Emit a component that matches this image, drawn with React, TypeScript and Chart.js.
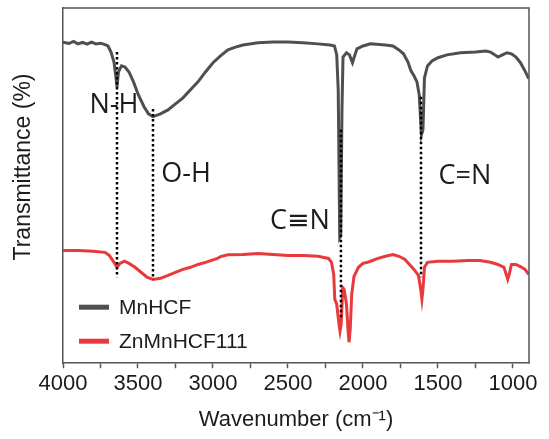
import { useEffect, useRef } from "react";
import { Chart, registerables } from "chart.js";

Chart.register(...registerables);

// ---- Data ----
const seriesNames = ["MnHCF", "ZnMnHCF111"];
const seriesColors = ["#4f4f4f", "#e8393d"];

const mnhcfWavenumber = [
  4000, 3960, 3930, 3900, 3870, 3840, 3810, 3780, 3750, 3720, 3700, 3680, 3660, 3645, 3640, 3630, 3610,
  3587, 3560, 3530, 3500, 3460, 3430, 3400, 3350, 3300, 3250, 3200, 3150, 3100, 3050, 3000, 2950,
  2900, 2850, 2800, 2700, 2600, 2500, 2400, 2300, 2220, 2190, 2175, 2165, 2155, 2148, 2140, 2133,
  2110, 2090, 2070, 2060, 2040, 2000, 1950, 1850, 1800, 1760, 1730, 1700, 1680, 1660, 1640, 1625,
  1610, 1600, 1590, 1570, 1540, 1500, 1440, 1350, 1250, 1180, 1150, 1120, 1100, 1070, 1040, 1010,
  980, 950, 920, 895,
];
const mnhcfT = [
  90.4, 90.0, 90.6, 89.9, 90.3, 89.8, 90.4, 89.9, 90.1, 89.7, 89.3, 87.6, 84.8, 79.8, 77.8, 82.0, 83.7,
  83.4, 82.0, 79.2, 75.8, 72.2, 70.2, 69.4, 70.2, 71.3, 73.0, 74.7, 77.0, 79.2, 82.0, 84.6, 86.5,
  88.2, 89.0, 89.6, 90.2, 90.4, 90.4, 90.2, 89.9, 89.6, 89.3, 86.8, 77.0, 35.4, 36.0, 71.3, 86.2,
  87.4, 86.8, 84.6, 86.0, 88.5, 89.3, 89.9, 89.6, 89.3, 88.2, 87.1, 84.8, 82.3, 80.9, 79.2, 75.6,
  64.3, 65.7, 80.3, 83.7, 85.1, 86.0, 86.8, 87.4, 87.6, 87.9, 87.6, 86.8, 86.2, 86.8, 87.4, 87.1,
  86.2, 84.6, 82.3, 80.1,
];

const znWavenumber = [
  4000, 3900, 3800, 3720, 3690, 3660, 3640, 3620, 3590, 3560, 3520, 3480, 3440, 3400, 3350, 3300,
  3250, 3200, 3150, 3100, 3050, 3000, 2970, 2950, 2900, 2800, 2700, 2600, 2500, 2400, 2300, 2230,
  2210, 2195, 2188, 2175, 2160, 2153, 2145, 2135, 2125, 2110, 2100, 2093, 2085, 2075, 2060, 2030,
  2000, 1970, 1950, 1900, 1850, 1800, 1760, 1720, 1690, 1660, 1630, 1615, 1607, 1600, 1590, 1570,
  1500, 1400, 1300, 1220, 1150, 1100, 1060, 1045, 1035, 1025, 1010, 980, 950, 920, 895,
];
const znT = [
  31.7, 31.7, 31.5, 31.2, 30.3, 28.4, 27.0, 28.1, 28.7, 28.1, 27.0, 25.6, 24.2, 23.6, 23.9, 24.7,
  25.6, 26.4, 27.0, 27.8, 28.4, 29.1, 29.5, 30.0, 30.5, 30.6, 30.9, 30.6, 30.3, 30.3, 30.1, 29.5,
  28.4, 25.0, 18.0, 16.6, 11.0, 9.0, 11.0, 21.3, 20.8, 16.6, 9.6, 5.9, 9.6, 19.4, 24.4, 27.0,
  28.1, 28.4, 28.7, 29.5, 30.1, 30.6, 30.1, 29.2, 27.8, 26.4, 24.7, 20.8, 18.0, 20.8, 27.0, 28.4,
  28.7, 28.7, 28.9, 28.9, 28.4, 27.8, 27.0, 25.0, 23.6, 25.0, 27.8, 27.8, 27.2, 26.4, 25.0,
];

const xTickValues = [4000, 3750, 3500, 3250, 3000, 2750, 2500, 2250, 2000, 1750, 1500, 1250, 1000];
const xMin = 893;
const xMax = 4000;

const peakLabels = ["N-H", "O-H", "C\u2261N", "C=N"];
const peakWavenumber = [3640, 3400, 2147, 1613];
const peakLineTop = [87.6, 71.6, 65.7, 75.0];
const peakLineBottom = [24.2, 23.6, 12.9, 24.2];
const labelWavenumber = [3660, 3180, 2420, 1320];
const labelT = [72.5, 53.1, 39.9, 52.5];

const xTitle = "Wavenumber (cm\u207B\u00B9)";
const yTitle = "Transmittance (%)";

const AXIS_COLOR = "#555555";
const TEXT_COLOR = "#1c1c1c";
const SANS = "'Liberation Sans', Arial, sans-serif";

export default function App() {
  const canvasRef = useRef<HTMLCanvasElement | null>(null);

  useEffect(() => {
    const canvas = canvasRef.current;
    if (!canvas) return;

    const curveData = [
      mnhcfWavenumber.map((x, i) => ({ x, y: mnhcfT[i] })),
      znWavenumber.map((x, i) => ({ x, y: znT[i] })),
    ];

    const datasets: any[] = curveData.map((data, i) => ({
      label: seriesNames[i],
      data,
      borderColor: seriesColors[i],
      backgroundColor: seriesColors[i],
      borderWidth: 3,
      pointRadius: 0,
      tension: 0,
      order: 2 + i,
      isMarker: false,
    }));

    peakWavenumber.forEach((wn, i) => {
      datasets.push({
        label: "marker-" + peakLabels[i],
        data: [
          { x: wn, y: peakLineTop[i] },
          { x: wn, y: peakLineBottom[i] },
        ],
        borderColor: "#000000",
        borderWidth: 2.5,
        borderDash: [2.5, 2.5],
        pointRadius: 0,
        order: 0,
        isMarker: true,
      });
    });

    const framePlugin = {
      id: "frame",
      afterDraw(chart: any) {
        const { ctx, chartArea } = chart;
        ctx.save();
        ctx.strokeStyle = AXIS_COLOR;
        ctx.lineWidth = 1.5;
        ctx.beginPath();
        ctx.moveTo(chartArea.left, chartArea.top);
        ctx.lineTo(chartArea.right, chartArea.top);
        ctx.lineTo(chartArea.right, chartArea.bottom);
        ctx.stroke();
        ctx.restore();
      },
    };

    const annotationPlugin = {
      id: "peakText",
      afterDatasetsDraw(chart: any) {
        const { ctx } = chart;
        const xs = chart.scales.x;
        const ys = chart.scales.y;
        ctx.save();
        ctx.fillStyle = TEXT_COLOR;
        ctx.font = "27px 'Open Sans', 'DejaVu Sans', sans-serif";
        ctx.textAlign = "center";
        ctx.textBaseline = "middle";
        peakLabels.forEach((t, i) => {
          ctx.fillText(t, xs.getPixelForValue(labelWavenumber[i]), ys.getPixelForValue(labelT[i]));
        });
        ctx.restore();
      },
    };

    const legendPlugin = {
      id: "insideLegend",
      afterDraw(chart: any) {
        const { ctx, chartArea } = chart;
        const items = chart.data.datasets.filter((d: any) => !d.isMarker);
        ctx.save();
        ctx.font = "21px " + SANS;
        ctx.textBaseline = "middle";
        ctx.textAlign = "left";
        items.forEach((d: any, i: number) => {
          const cy = chartArea.bottom - 56 + i * 34;
          const x0 = chartArea.left + 16;
          ctx.fillStyle = d.borderColor;
          ctx.fillRect(x0, cy - 2.5, 30, 5);
          ctx.fillStyle = TEXT_COLOR;
          ctx.fillText(d.label, x0 + 40, cy + 1);
        });
        ctx.restore();
      },
    };

    const yTitlePlugin = {
      id: "yTitle",
      afterDraw(chart: any) {
        const { ctx, chartArea } = chart;
        ctx.save();
        ctx.translate(chartArea.left - 39, chartArea.top + 159);
        ctx.rotate(-Math.PI / 2);
        ctx.fillStyle = TEXT_COLOR;
        ctx.font = "23px " + SANS;
        ctx.textAlign = "center";
        ctx.textBaseline = "middle";
        ctx.fillText(yTitle, 0, 0);
        ctx.restore();
      },
    };

    const chart = new Chart(canvas, {
      type: "line",
      data: { datasets },
      options: {
        animation: false,
        responsive: false,
        events: [],
        layout: { padding: { left: 63, right: 20, top: 8, bottom: 6 } },
        plugins: {
          legend: { display: false },
          tooltip: { enabled: false },
          title: { display: false },
        },
        scales: {
          x: {
            type: "linear",
            reverse: true,
            min: xMin,
            max: xMax,
            afterBuildTicks: (scale: any) => {
              scale.ticks = xTickValues.map((v) => ({ value: v }));
            },
            grid: {
              display: true,
              drawOnChartArea: false,
              drawTicks: true,
              tickLength: 5,
              tickColor: AXIS_COLOR,
              tickWidth: 1.5,
            },
            border: { display: true, color: AXIS_COLOR, width: 1.5 },
            ticks: {
              autoSkip: false,
              maxRotation: 0,
              padding: 3,
              color: TEXT_COLOR,
              font: { family: SANS, size: 22 },
              callback: (v: any) => (Number(v) % 500 === 0 ? String(v) : ""),
            },
            title: {
              display: true,
              text: xTitle,
              color: TEXT_COLOR,
              font: { family: SANS, size: 22 },
              padding: { top: 6, bottom: 0 },
            },
          },
          y: {
            type: "linear",
            min: 0,
            max: 100,
            grid: { display: true, drawOnChartArea: false, drawTicks: false },
            border: { display: true, color: AXIS_COLOR, width: 1.5 },
            ticks: { display: false },
            title: { display: false },
          },
        },
      } as any,
      plugins: [framePlugin, annotationPlugin, legendPlugin, yTitlePlugin],
    });

    return () => chart.destroy();
  }, []);

  return (
    <div style={{ position: "fixed", left: 0, top: 0, width: 549, height: 439, background: "#ffffff" }}>
      <canvas ref={canvasRef} width={549} height={439} style={{ display: "block" }} />
    </div>
  );
}
